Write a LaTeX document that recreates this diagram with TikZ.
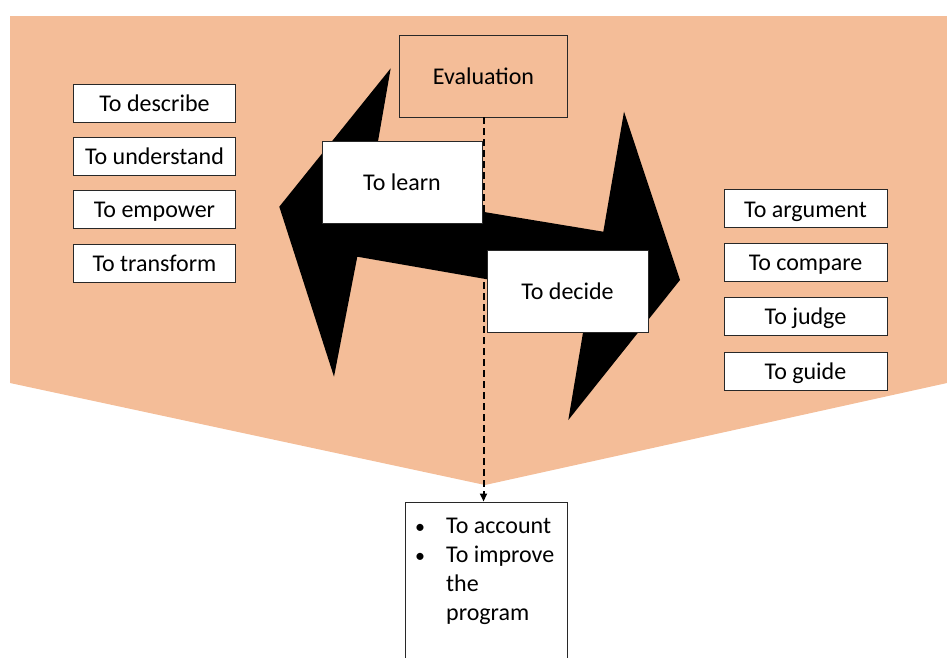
\documentclass[tikz,border=0pt]{standalone}
\usepackage{fontspec}
\setmainfont{Carlito}
\usetikzlibrary{arrows.meta}
\definecolor{peach}{RGB}{244,189,152}
\definecolor{edge}{RGB}{40,40,40}
\newcommand{\itemdot}{\makebox[31pt][l]{\fontsize{20}{29}\selectfont\textbullet}}
\begin{document}
\begin{tikzpicture}[x=1pt,y=-1pt,
  every node/.style={font=\fontsize{24}{29}\selectfont, text=black},
  line/.style={text height=21pt, text depth=4.5pt},
  tagbox/.style={draw=edge, line width=0.8pt, fill=white, inner sep=0pt,
    line, minimum width=162pt, minimum height=38pt},
  bigbox/.style={draw=edge, line width=0.8pt, fill=white, inner sep=0pt,
    line, minimum width=160pt, minimum height=82pt},
  flow/.style={draw=black, line width=2pt, dash pattern=on 7pt off 4pt,
    -{Triangle[width=7pt,length=8pt]}}]
\useasboundingbox (0,0) rectangle (947,657);
\clip (0,0) rectangle (947,657);

% background funnel
\fill[peach] (10,16) -- (947,16) -- (947,383) -- (485,485) -- (10,383) -- cycle;

% evaluation heading
\node[draw=edge, line width=0.8pt, inner sep=0pt, line, minimum width=168pt,
  minimum height=82pt] (eval) at (483.5,76) {Evaluation};

% double-headed arrow
\fill[black] (369,193) -- (390.7,68.3) -- (279.3,206.7) -- (334,376.7)
  -- (357.3,256.7) -- (589,297) -- (568.3,420) -- (680,280)
  -- (624,111.7) -- (603.3,231.7) -- cycle;

\node[bigbox] (learn) at (402,182) {To learn};
\node[bigbox, minimum width=161pt] (decide) at (567.5,291) {To decide};

% left list
\node[tagbox] (describe)   at (154.5,103.3) {To describe};
\node[tagbox] (understand) at (154.5,156.5) {To understand};
\node[tagbox] (empower)    at (154.5,209.2) {To empower};
\node[tagbox] (transform)  at (154.5,263)   {To transform};

% right list
\node[tagbox, minimum width=163pt] (argument) at (805.5,208.8) {To argument};
\node[tagbox, minimum width=163pt] (compare)  at (805.5,262)   {To compare};
\node[tagbox, minimum width=163pt] (judge)    at (805.5,316.7) {To judge};
\node[tagbox, minimum width=163pt] (guide)    at (805.5,371)   {To guide};

% outcome box
\node[draw=edge, line width=0.8pt, fill=white, inner sep=0pt,
  minimum width=162pt, minimum height=190pt, anchor=north]
  (outcome) at (486,501.5) {};
\node[anchor=north west, inner sep=0pt] (outcometext) at (415,513)
  {\begin{tabular}{@{}l@{}l@{}}
   \itemdot & To account\\
   \itemdot & To improve\\
   \makebox[31pt]{} & the\\
            & program
   \end{tabular}};

% connector
\draw[flow] (eval.south) -- (eval.south |- outcome.north);
\end{tikzpicture}
\end{document}
